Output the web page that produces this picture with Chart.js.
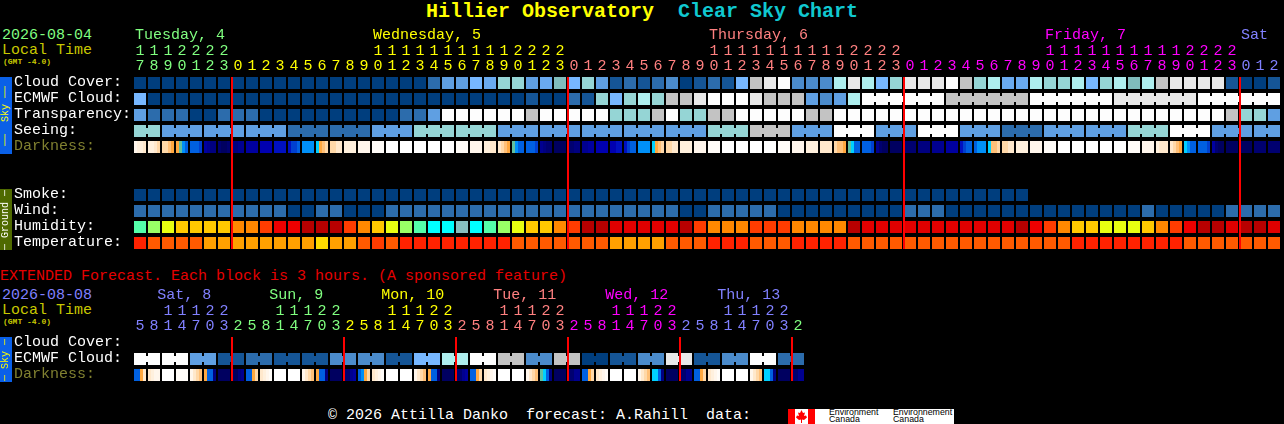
<!DOCTYPE html>
<html>
<head>
<meta charset="utf-8">
<title>Hillier Observatory Clear Sky Chart</title>
<script src="https://cdn.jsdelivr.net/npm/chart.js@4"></script>
<style>
    html, body { margin: 0; padding: 0; background: #000; width: 1284px; height: 424px; overflow: hidden; }
    canvas { position: absolute; left: 0; }
    .t { position: absolute; white-space: pre; font: 15px/15px "Liberation Mono", monospace; color: #fff; }
    .gmt { font: bold 8px/8px "Liberation Mono", monospace; color: #c8c800; left: 3px; }
    .strip { position: absolute; left: 0; width: 12px; }
    .strip span { position: absolute; left: 6px; top: 50%; transform: translate(-50%, -50%) rotate(-90deg); white-space: pre; font: 10px/12px "Liberation Mono", monospace; }
    #logo { position: absolute; left: 815px; top: 409px; width: 139px; height: 15px; background: #fff; }
    #logo div { position: absolute; top: 0; font: 8.8px/7px "Liberation Sans", sans-serif; color: #000; white-space: pre; }
</style>
</head>
<body>
<div class="t" style="left:426px;top:2px;font:bold 20px/20px 'Liberation Mono',monospace;color:#ffff00">Hillier Observatory</div>
<div class="t" style="left:678px;top:2px;font:bold 20px/20px 'Liberation Mono',monospace;color:#10c8d0">Clear Sky Chart</div>

<div class="t" style="left:2px;top:28px;color:#80ff80">2026-08-04</div>
<div class="t" style="left:2px;top:43px;color:#c8c800">Local Time</div>
<div class="t gmt" style="top:58px">(GMT -4.0)</div>
<canvas id="mainChart" width="1284" height="253" style="top:0"></canvas>

<div class="strip" style="top:77px;height:77px;background:#0a60e8;color:#ffff00"><span>──  Sky ──</span></div>
<div class="strip" style="top:189px;height:61px;background:#4f6a00;color:#fff"><span>─ Ground ─</span></div>

<div class="t" style="left:0;top:269px;color:#e60000">EXTENDED Forecast. Each block is 3 hours. (A sponsored feature)</div>

<div class="t" style="left:2px;top:288px;color:#8080ff">2026-08-08</div>
<div class="t" style="left:2px;top:303px;color:#c8c800">Local Time</div>
<div class="t gmt" style="top:318px">(GMT -4.0)</div>
<canvas id="extChart" width="1284" height="125" style="top:260px"></canvas>

<div class="strip" style="top:337px;height:45px;background:#0a60e8;color:#ffff00"><span>─ Sky ─</span></div>

<div class="t" style="left:328px;top:408px">© 2026 Attilla Danko  forecast: A.Rahill  data:</div>
<svg style="position:absolute;left:788px;top:409px" width="27" height="15" viewBox="0 0 27 15">
    <rect width="27" height="15" fill="#fff"/>
    <rect width="7" height="15" fill="#f00"/>
    <rect x="20" width="7" height="15" fill="#f00"/>
    <polygon fill="#f00" points="13.5,1 15,4 17,3.5 16,7 18,6.5 19,8.5 16,11 14,10.5 14,14 13,14 13,10.5 11,11 8,8.5 9,6.5 11,7 10,3.5 12,4"/>
</svg>
<div id="logo">
    <div style="left:14px">Environment
Canada</div>
    <div style="left:78px">Environnement
Canada</div>
</div>

<script>
// ---- main forecast, one entry per hour ----
const mainHours = [17,18,19,20,21,22,23,
    0,1,2,3,4,5,6,7,8,9,10,11,12,13,14,15,16,17,18,19,20,21,22,23,
    0,1,2,3,4,5,6,7,8,9,10,11,12,13,14,15,16,17,18,19,20,21,22,23,
    0,1,2,3,4,5,6,7,8,9,10,11,12,13,14,15,16,17,18,19,20,21,22,23,
    0,1,2];
const mainDays = ['Tuesday, 4','Wednesday, 5','Thursday, 6','Friday, 7','Sat'];
const mainDayCols = [0,17,41,65,79];
const mainDayColors = ['#80ff80','#ffff00','#ff8080','#ff00ff','#8080ff'];
const mainRowLabels = ['Cloud Cover:','ECMWF Cloud:','Transparency:','Seeing:','Darkness:','Smoke:','Wind:','Humidity:','Temperature:'];

const cloudCover = [0,0,0,0,0,0,0,0,0,0,0,0,0,0,0,0,0,0,0,0,0,20,40,40,50,45,60,60,40,45,55,50,60,40,10,20,10,20,30,0,10,20,10,50,80,90,100,30,30,30,70,90,70,50,60,90,90,90,100,80,60,70,45,45,70,60,60,70,50,60,70,55,70,80,90,90,90,90,10,0,0,10];
const ecmwfCloud = [50,0,0,0,0,0,0,0,0,0,0,0,0,0,0,0,0,0,0,0,0,0,0,0,0,0,0,0,10,0,0,20,10,60,50,60,70,60,80,80,90,100,100,100,90,80,80,80,40,30,40,70,100,100,100,100,100,100,80,80,80,80,80,80,100,100,100,100,100,100,90,90,90,90,90,90,100,100,100,100,100,100];
const ecmwfBlocks = [1,1,1,1,1,1,1,1,1,1,1,1,1,1,1,1,1,1,1,1,1,1,1,1,1,1,1,1,1,1,1,1,1,1,1,1,1,1,1,1,1,1,1,1,1,1,1,1,1,1,1,1,6,6,6,6,6];
const transparency = [40,20,20,20,0,0,20,20,20,0,0,0,0,0,0,0,0,0,0,20,20,40,100,100,100,100,100,100,80,100,100,100,100,100,60,60,60,80,100,60,60,80,80,100,100,100,100,100,80,80,100,100,100,100,100,100,100,100,100,100,100,100,100,100,100,100,100,100,100,100,100,100,100,100,100,100,100,100,80,60,60,40];
const seeing = [60,60,40,40,40,40,40,40,40,40,40,20,20,20,20,20,20,40,40,40,60,60,60,60,60,60,40,40,40,40,40,40,40,40,40,40,40,40,40,40,40,60,60,60,80,80,80,40,40,40,100,100,100,40,40,40,100,100,100,40,40,40,20,20,20,40,40,40,40,40,40,60,60,60,100,100,100,40,40,40,40,40];
const seeingBlocks = [2,3,3,3,3,3,3,3,3,3,3,3,3,3,3,3,3,3,3,3,3,3,3,3,3,3,3,2];
// four slices per hour, index into darknessColors
const darkness = [[17,16,16,15],[16,16,15,14],[14,14,13,12],[12,11,9,8],[8,8,8,7],[4,3,2,2],[1,0,0,1],[2,2,3,3],4,5,6,[6,7,7,8],9,[10,12,13,14],[14,14,15,15],16,17,18,19,19,19,19,19,18,17,[16,16,15,15],[15,14,13,12],[11,9,8,8],[8,8,8,7],[3,2,1,1],0,[1,1,2,2],[3,3,4,4],5,[5,5,6,6],[6,7,8,8],9,[10,12,13,14],[14,14,15,15],16,17,18,19,19,19,19,18,17,16,15,[14,13,13,12],[11,10,8,8],[8,8,8,7],[3,1,0,0],0,1,2,3,4,[6,7,8,8],[8,9,9,9],[10,13,13,14],[14,14,15,15],16,17,18,19,19,19,19,19,18,17,[16,15,15,15],[15,14,13,12],[10,9,8,8],[8,8,8,7],[4,1,0,0],0,0,1,1];
const smoke = [0,0,0,0,0,0,0,0,0,0,0,0,0,0,0,0,0,0,0,0,0,0,0,0,0,0,0,0,0,0,0,0,0,0,0,0,0,0,0,0,0,0,0,0,0,0,0,0,0,0,0,0,0,0,0,0,0,0,0,0,0,0,0,0];
const wind = [6,6,6,6,6,6,6,6,6,6,6,0,0,6,6,0,0,0,6,6,6,6,6,6,6,6,6,6,6,6,6,6,6,6,6,6,6,6,6,0,0,6,6,6,6,6,0,0,0,0,0,0,0,0,0,6,6,6,0,0,0,0,0,0,0,0,0,0,0,0,0,0,6,0,0,0,0,0,6,6,6,6];
const humidity = [55,60,65,70,70,70,70,75,75,80,85,85,95,95,95,80,75,70,65,60,55,50,50,52,50,55,60,65,70,70,75,80,95,95,90,90,90,90,90,95,80,75,75,75,80,80,80,75,75,75,75,95,90,90,90,90,90,90,90,90,90,90,90,95,85,80,75,70,70,65,65,65,70,75,80,85,95,95,90,95,95,90];
const temperature = [20,18,18,18,18,16,16,16,16,16,16,16,16,13,16,16,18,19,18,20,20,20,20,20,20,20,20,18,18,18,18,18,18,18,16,16,16,16,18,18,18,20,20,20,18,18,18,20,20,20,20,18,18,18,18,18,18,18,18,18,18,18,18,18,18,18,18,20,20,20,20,20,20,20,20,18,18,18,18,18,18,18];

// ---- extended forecast, one entry per 3 hour block ----
const extHours = [5,8,11,14,17,20,23,
    2,5,8,11,14,17,20,23, 2,5,8,11,14,17,20,23, 2,5,8,11,14,17,20,23,
    2,5,8,11,14,17,20,23, 2,5,8,11,14,17,20,23, 2];
const extDays = ['Sat, 8','Sun, 9','Mon, 10','Tue, 11','Wed, 12','Thu, 13'];
const extDayCols = [1.6,9.6,17.6,25.6,33.6,41.6];
const extDayColors = ['#8080ff','#80ff80','#ffff00','#ff8080','#ff00ff','#8080ff','#80ff80'];
const extRowLabels = ['Cloud Cover:','ECMWF Cloud:','Darkness:'];
const extEcmwf = [100,100,100,100,40,40,10,10,20,20,10,10,10,10,30,30,30,30,10,10,50,50,70,70,100,100,80,80,30,30,80,80,0,0,10,10,30,30,90,90,10,10,30,30,100,100,20,20];
const extBlocks = [2,2,2,2,2,2,2,2,2,2,2,2,2,2,2,2,2,2,2,2,2,2,2,2];
const extDarkness = [[8,8,12,15],[15,16,17,17],19,18,[17,15,14,13],[12,8,8,2],0,[0,0,2,3],[8,8,12,14],[15,16,17,18],19,19,[17,15,14,13],[12,8,8,2],0,[1,1,3,4],[8,9,12,14],[15,16,17,18],19,19,[17,15,14,13],[12,8,8,2],0,[1,1,3,4],[8,8,12,14],[15,16,17,18],19,19,[17,15,14,13],[11,10,8,2],0,[1,1,3,3],[8,8,12,14],[15,16,17,18],19,19,[17,15,14,13],[10,10,8,2],0,[1,1,3,3],[8,8,12,14],[15,16,17,18],19,19,[17,15,14,13],[10,10,8,2],0,[1,1,3,3]];

// ---- colours ----
const cloudColors = {0:'#003e7e',10:'#155596',20:'#2c6cac',30:'#4b8bcb',40:'#5f9fe2',45:'#6aaaf0',50:'#77b7ff',55:'#80bcbc',60:'#95d5d5',70:'#aeeeee',80:'#c3c3c3',90:'#e8e8e8',100:'#fdfdfd'};
const windColors = {0:'#003e7e',6:'#2c6cac'};
const humidityColors = {50:'#00ffff',52:'#88bfbf',55:'#54ffaa',60:'#99ff66',65:'#e8ff11',70:'#ffc800',75:'#ff8800',80:'#ff3c00',85:'#ee0000',90:'#e00000',95:'#b80000'};
const temperatureColors = {13:'#ffdc00',16:'#ffa000',18:'#ff5a00',19:'#ff3c00',20:'#ff2200'};
const darknessColors = ['#000060','#000070','#000080','#000090','#0000a0','#0000b0','#0010c0','#0040d0','#0060e0','#0090f8','#00d0ff','#60c0a0','#ffa840','#ffc078','#ffd8a8','#ffe8cc','#fff0dd','#fff6ec','#fffcf8','#ffffff'];

const FONT = { family: '"Liberation Mono", monospace', size: 15, lineHeight: 1 };
const PITCH = 14;          // px per column
const CELL = 12;           // px per block
const CELL_START = 1 / PITCH; // first block starts 1px after the column edge

function blockBars(row, values, palette) {
    const data = [], colors = [];
    values.forEach(function (v, i) {
        data.push({ x: i + 0.5, y: [row + 2 / 16, row + 14 / 16] });
        colors.push(palette[v]);
    });
    return barSet(data, colors, CELL);
}

// the little bridge between blocks of one forecast run
function linkBars(row, values, palette, blocks) {
    const data = [], colors = [];
    let col = 0;
    blocks.forEach(function (len) {
        for (let i = 1; i < len; i++) {
            data.push({ x: col + i, y: [row + 5 / 16, row + 11 / 16] });
            colors.push(palette[values[col + i]]);
        }
        col += len;
    });
    return barSet(data, colors, 2);
}

function darknessBars(row, values) {
    const data = [], colors = [];
    values.forEach(function (v, i) {
        const slices = Array.isArray(v) ? v : [v, v, v, v];
        slices.forEach(function (s, k) {
            data.push({ x: i + CELL_START + (k + 0.5) * 3 / PITCH, y: [row + 2 / 16, row + 14 / 16] });
            colors.push(darknessColors[s]);
        });
    });
    return barSet(data, colors, 3);
}

function midnightBars(hours, top, bottom) {
    const data = [];
    hours.forEach(function (h, i) {
        if (i > 0 && h < hours[i - 1]) data.push({ x: i + CELL_START, y: [top, bottom] });
    });
    return barSet(data, '#ff0000', 2);
}

function barSet(data, colors, thickness) {
    return { data: data, backgroundColor: colors, barThickness: thickness, grouped: false, inflateAmount: 0, borderWidth: 0, order: 1 };
}

function dayIndexes(hours) {
    let d = 0;
    return hours.map(function (h, i) {
        if (i > 0 && h < hours[i - 1]) d++;
        return d;
    });
}

// scales measure half a label past their ends, which would squeeze the blocks
function noPadding(s) {
    s.paddingLeft = s.paddingRight = s.paddingTop = s.paddingBottom = 0;
}

function makeChart(id, cfg) {
    const columns = cfg.hours.length;
    const hourDay = dayIndexes(cfg.hours);
    const hourTicks = cfg.hours.map(function (h, i) { return { value: i + 0.5 }; });
    const dayTicks = cfg.dayCols.map(function (c) { return { value: c + 0.14 }; });
    return new Chart(document.getElementById(id), {
        type: 'bar',
        data: { datasets: cfg.datasets },
        options: {
            responsive: false,
            animation: false,
            devicePixelRatio: 1,
            layout: { padding: { top: 28, left: 14, right: 1284 - 133 - columns * PITCH, bottom: 2 } },
            plugins: { legend: { display: false }, tooltip: { enabled: false } },
            scales: {
                x: {
                    type: 'linear', position: 'top', min: 0, max: columns, weight: 0, offset: false,
                    grid: { display: false, drawTicks: false }, border: { display: false },
                    afterBuildTicks: function (s) { s.ticks = hourTicks; },
                    afterFit: function (s) { s.height = 32; noPadding(s); },
                    ticks: {
                        autoSkip: false, maxRotation: 0, padding: 1, font: FONT,
                        callback: function (v, i) {
                            const h = cfg.hours[i];
                            return [h >= 10 ? String(Math.floor(h / 10)) : '', String(h % 10)];
                        },
                        color: function (c) { return cfg.dayColors[hourDay[c.index]]; }
                    }
                },
                xDay: {
                    type: 'linear', position: 'top', min: 0, max: columns, weight: 1, offset: false,
                    grid: { display: false, drawTicks: false }, border: { display: false },
                    afterBuildTicks: function (s) { s.ticks = dayTicks; },
                    afterFit: function (s) { s.height = 15; noPadding(s); },
                    ticks: {
                        autoSkip: false, maxRotation: 0, padding: 0, align: 'start', font: FONT,
                        callback: function (v, i) { return cfg.days[i]; },
                        color: function (c) { return cfg.dayColors[c.index]; }
                    }
                },
                y: {
                    type: 'linear', reverse: true, min: 0, max: cfg.rowCount,
                    grid: { display: false, drawTicks: false }, border: { display: false },
                    afterBuildTicks: function (s) { s.ticks = cfg.rows.map(function (r) { return { value: r + 7 / 16 }; }); },
                    afterFit: function (s) { s.width = 119; noPadding(s); },
                    ticks: {
                        autoSkip: false, crossAlign: 'far', padding: 0, font: FONT,
                        callback: function (v, i) { return cfg.rowLabels[i]; },
                        color: function (c) { return cfg.rowLabels[c.index] === 'Darkness:' ? '#808030' : '#ffffff'; }
                    }
                }
            }
        }
    });
}

window.addEventListener('DOMContentLoaded', function () {
    Chart.defaults.font.family = FONT.family;

    makeChart('mainChart', {
        hours: mainHours, days: mainDays, dayCols: mainDayCols, dayColors: mainDayColors,
        rowLabels: mainRowLabels, rows: [0, 1, 2, 3, 4, 7, 8, 9, 10], rowCount: 11,
        datasets: [
            blockBars(0, cloudCover, cloudColors),
            linkBars(1, ecmwfCloud, cloudColors, ecmwfBlocks),
            blockBars(1, ecmwfCloud, cloudColors),
            blockBars(2, transparency, cloudColors),
            linkBars(3, seeing, cloudColors, seeingBlocks),
            blockBars(3, seeing, cloudColors),
            darknessBars(4, darkness),
            blockBars(7, smoke, cloudColors),
            blockBars(8, wind, windColors),
            blockBars(9, humidity, humidityColors),
            blockBars(10, temperature, temperatureColors),
            Object.assign(midnightBars(mainHours, 2 / 16, 10 + 14 / 16), { order: 0 })
        ]
    });

    makeChart('extChart', {
        hours: extHours, days: extDays, dayCols: extDayCols, dayColors: extDayColors,
        rowLabels: extRowLabels, rows: [0, 1, 2], rowCount: 3,
        datasets: [
            linkBars(1, extEcmwf, cloudColors, extBlocks),
            blockBars(1, extEcmwf, cloudColors),
            darknessBars(2, extDarkness),
            Object.assign(midnightBars(extHours, 2 / 16, 2 + 14 / 16), { order: 0 })
        ]
    });
});
</script>
</body>
</html>
